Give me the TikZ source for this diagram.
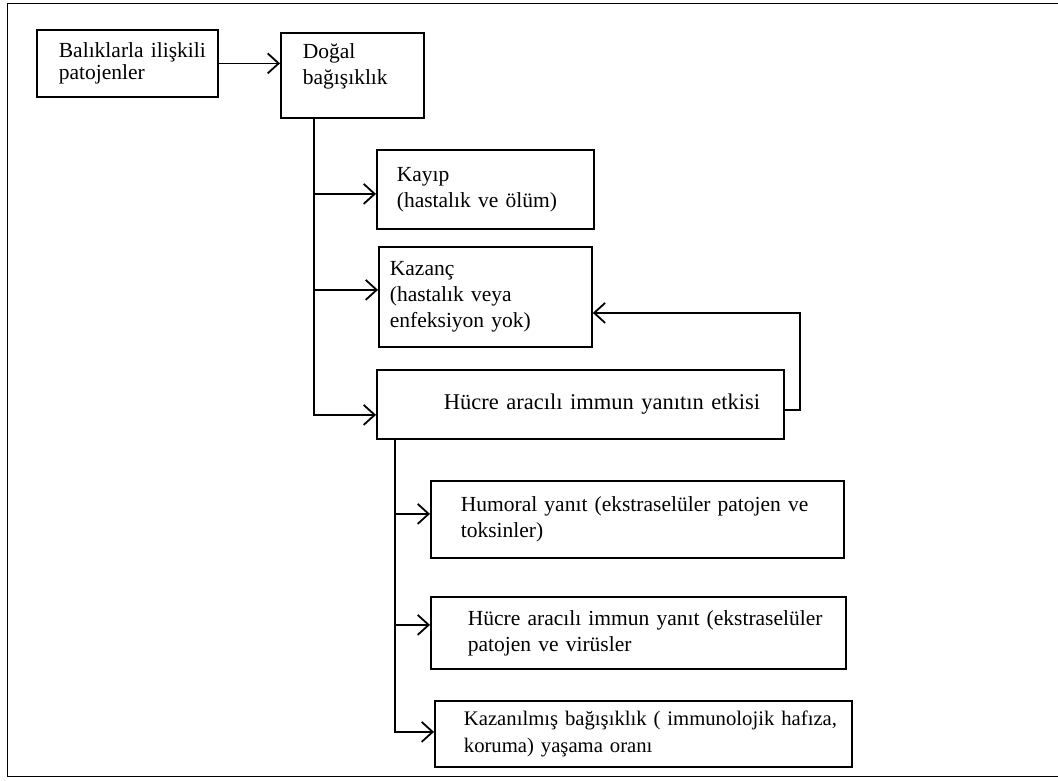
\documentclass[tikz,border=0pt]{standalone}
\usepackage{fontspec}
\setmainfont{Liberation Serif}
\usetikzlibrary{arrows.meta, positioning, calc}

\begin{document}
\begin{tikzpicture}[
  x=1pt, y=-1pt,
  kutu/.style={
    draw,
    line width=1.8pt,
    anchor=north west,
    align=left,
    inner ysep=0pt,
    execute at begin node={\hyphenpenalty=10000\exhyphenpenalty=10000},
    font=\fontsize{21.5}{26}\selectfont
  },
  ok/.style={-{Straight Barb[length=11pt, width=20pt]}, line width=1.8pt}
]
\useasboundingbox (0,0) rectangle (1058,780);
\draw[line width=1pt] (1058,3) -- (7,3) -- (7,776) -- (1058,776);

% top row
\node[kutu, text width=137pt, inner xsep=22pt, minimum height=67pt,
  font=\fontsize{21.5}{22}\selectfont] (bal) at (36,29)
  {Balıklarla~ilişkili\\patojenler};
\node[kutu, text width=99pt, inner xsep=22pt, minimum height=85pt, text depth=49pt] (dogal) at (280,32)
  {Doğal\\bağışıklık};

% first branch
\node[kutu, text width=177pt, inner xsep=20pt, minimum height=79pt] (kayip) at (376,149)
  {Kayıp\\(hastalık ve ölüm)};
\node[kutu, text width=191pt, inner xsep=11pt, minimum height=100pt] (kazanc) at (378,246)
  {Kazanç\\(hastalık veya\\enfeksiyon yok)};
\node[kutu, text width=273pt, inner xsep=67pt, minimum height=69pt,
  font=\fontsize{22.5}{26}\selectfont] (hucre) at (376,369)
  {Hücre~aracılı~immun~yanıtın~etkisi};

% second branch
\node[kutu, text width=353pt, inner xsep=30pt, minimum height=77pt] (humoral) at (430,480)
  {Humoral~yanıt~(ekstraselüler~patojen~ve\\toksinler)};
\node[kutu, text width=341pt, inner xsep=37pt, minimum height=72pt] (hucreb) at (430,596)
  {Hücre~aracılı~immun~yanıt~(ekstraselüler\\patojen ve virüsler};
\node[kutu, text width=359pt, inner xsep=29pt, minimum height=66pt,
  font=\fontsize{20.7}{27}\selectfont] (kazanilmis) at (434,700)
  {Kazanılmış~bağışıklık~(~immunolojik~hafıza,\\koruma) yaşama oranı};

\draw[ok] (bal.east) -- (bal.east -| dogal.west);

\coordinate (govde) at ($(dogal.south west)+(34,0)$);
\draw[ok] (govde) |- ([yshift=-4.5pt]kayip.west);
\draw[ok] (govde) |- ([yshift=7pt]kazanc.west);
\draw[ok] (govde) |- ([yshift=-10.5pt]hucre.west);

% feedback
\draw[ok] ([yshift=-5.5pt]hucre.east) -- ++(15,0) |- ([yshift=-16pt]kazanc.east);

\coordinate (govde2) at ($(hucre.south west)+(19,0)$);
\draw[ok] (govde2) |- ([yshift=5.5pt]humoral.west);
\draw[ok] (govde2) |- ([yshift=8pt]hucreb.west);
\draw[ok] (govde2) |- ([yshift=2pt]kazanilmis.west);
\end{tikzpicture}
\end{document}
